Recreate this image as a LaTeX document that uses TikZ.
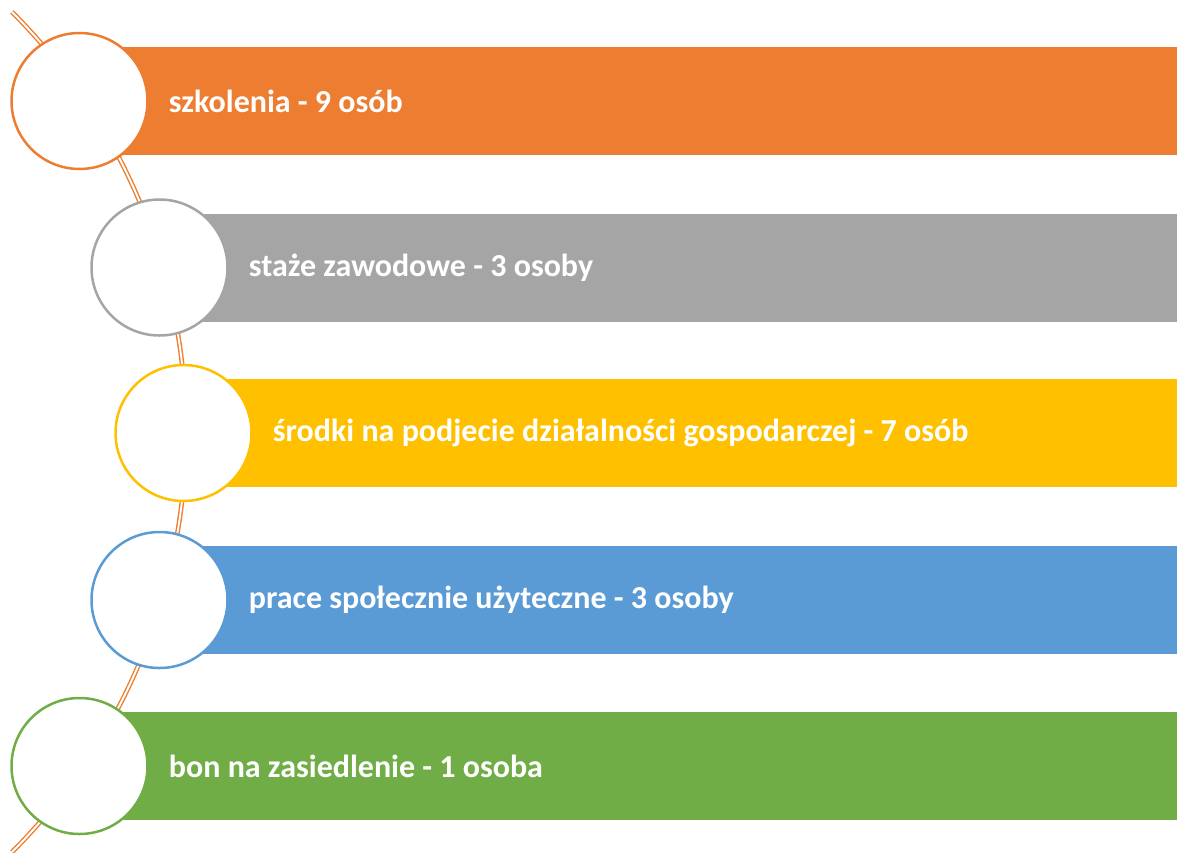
\documentclass[tikz,border=0pt]{standalone}
\usepackage{fontspec}
\setmainfont{Carlito}
\usetikzlibrary{positioning}

\definecolor{cOrange}{HTML}{ED7D31}
\definecolor{cGray}{HTML}{A5A5A5}
\definecolor{cYellow}{HTML}{FFC000}
\definecolor{cBlue}{HTML}{5B9BD5}
\definecolor{cGreen}{HTML}{70AD47}

\begin{document}
\begin{tikzpicture}
  [
    x=1pt, y=-1pt,
    bar/.style={rectangle, anchor=west, minimum width=#1, minimum height=108pt, inner sep=0pt},
    ring/.style={circle, draw=#1, fill=white, line width=2.5pt, minimum size=136pt, inner sep=0pt},
    label text/.style={font=\fontsize{32}{38}\selectfont\bfseries, text=white, inner sep=0pt},
    node distance=20pt
    ]
  \useasboundingbox (0,0) rectangle (1177,852);

  % bars
  \node[bar=1097.5pt, fill=cOrange] (b1) at (79.5,101) {};
  \node[bar=1017.5pt, fill=cGray] (b2) at (159.5,267.5) {};
  \node[bar=993.5pt, fill=cYellow] (b3) at (183.5,433) {};
  \node[bar=1017.5pt, fill=cBlue] (b4) at (159.5,600) {};
  \node[bar=1097.5pt, fill=cGreen] (b5) at (79.5,766) {};

  % double line behind the circles
  \coordinate (top) at (12,12);
  \draw[cOrange, line width=1.4pt, double=white, double distance=1.9pt]
    (top) arc[start angle=45, end angle=-45, radius=594pt] coordinate (bottom);

  % circles
  \node[ring=cOrange] (c1) at (79.5,101) {};
  \node[ring=cGray] (c2) at (159.5,267.5) {};
  \node[ring=cYellow] (c3) at (183.5,433) {};
  \node[ring=cBlue] (c4) at (159.5,600) {};
  \node[ring=cGreen] (c5) at (79.5,766) {};

  \node[label text, right=of c1] {szkolenia - 9 osób};
  \node[label text, right=of c2] {staże zawodowe - 3 osoby};
  \node[label text, right=of c3] {środki na podjecie działalności gospodarczej - 7 osób};
  \node[label text, right=of c4] {prace społecznie użyteczne - 3 osoby};
  \node[label text, right=of c5] {bon na zasiedlenie - 1 osoba};

\end{tikzpicture}
\end{document}
